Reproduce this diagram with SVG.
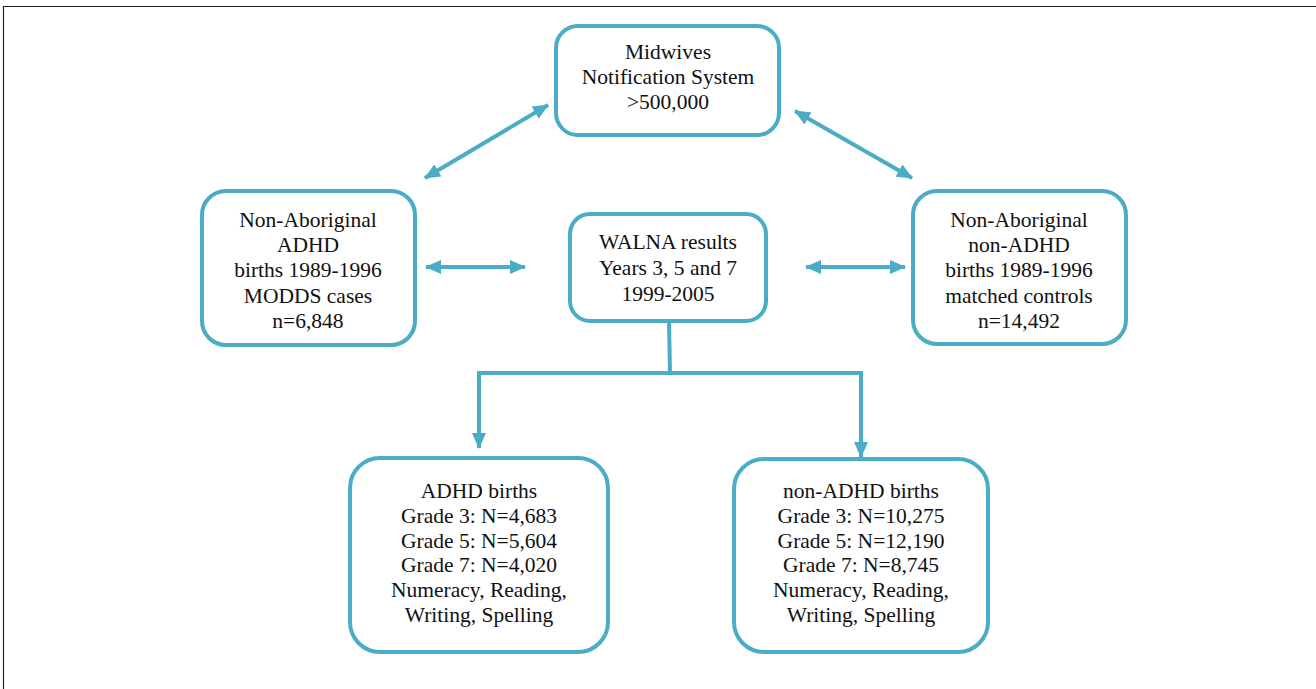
<svg xmlns="http://www.w3.org/2000/svg" width="1316" height="689" viewBox="0 0 1316 689">
<style>
.box{fill:#fff;stroke:#4BACC6;stroke-width:4}
.t{font-family:"Liberation Serif","DejaVu Serif",serif;font-size:21.5px;fill:#111;text-anchor:middle}
.c{fill:none;stroke:#4BACC6;stroke-width:4}
</style>
<defs>
<marker id="ah" markerUnits="userSpaceOnUse" markerWidth="16" markerHeight="14" refX="15" refY="7" orient="auto-start-reverse" viewBox="0 0 16 14">
<path d="M0,0 L16,7 L0,14 Z" fill="#4BACC6"/>
</marker>
</defs>
<rect x="0" y="0" width="1316" height="689" fill="#fff"/>
<path d="M3.5,689 V6.5 H1316" fill="none" stroke="#222" stroke-width="1.2"/>
<g id="connectors">
<line class="c" x1="548" y1="105" x2="425" y2="178" marker-start="url(#ah)" marker-end="url(#ah)"/>
<line class="c" x1="795" y1="111" x2="912" y2="178" marker-start="url(#ah)" marker-end="url(#ah)"/>
<line class="c" x1="426" y1="267" x2="525" y2="267" marker-start="url(#ah)" marker-end="url(#ah)"/>
<line class="c" x1="806" y1="267" x2="905" y2="267" marker-start="url(#ah)" marker-end="url(#ah)"/>
<path class="c" d="M669,321 L670,373"/>
<path class="c" d="M479,447 V373 H861 V456" stroke-linejoin="miter"/>
<line class="c" x1="479" y1="430" x2="479" y2="448" marker-end="url(#ah)"/>
<line class="c" x1="861" y1="440" x2="861" y2="457" marker-end="url(#ah)"/>
</g>
<g id="n-midwives">
<rect class="box" x="556" y="26" width="223" height="109" rx="22"/>
<text class="t" x="668" y="59">Midwives</text>
<text class="t" x="668" y="84">Notification System</text>
<text class="t" x="668" y="109">&gt;500,000</text>
</g>
<g id="n-adhd">
<rect class="box" x="202" y="191" width="213" height="154" rx="24"/>
<text class="t" x="308" y="227">Non-Aboriginal</text>
<text class="t" x="308" y="252">ADHD</text>
<text class="t" x="308" y="277">births 1989-1996</text>
<text class="t" x="308" y="303">MODDS cases</text>
<text class="t" x="308" y="328">n=6,848</text>
</g>
<g id="n-walna">
<rect class="box" x="570" y="214" width="196" height="107" rx="20"/>
<text class="t" x="668" y="249">WALNA results</text>
<text class="t" x="668" y="275">Years 3, 5 and 7</text>
<text class="t" x="668" y="301">1999-2005</text>
</g>
<g id="n-controls">
<rect class="box" x="913" y="191" width="213" height="153" rx="24"/>
<text class="t" x="1019" y="227">Non-Aboriginal</text>
<text class="t" x="1019" y="252">non-ADHD</text>
<text class="t" x="1019" y="277">births 1989-1996</text>
<text class="t" x="1019" y="303">matched controls</text>
<text class="t" x="1019" y="328">n=14,492</text>
</g>
<g id="n-adhd-births">
<rect class="box" x="350" y="458" width="258" height="194" rx="30"/>
<text class="t" x="479" y="498">ADHD births</text>
<text class="t" x="479" y="523">Grade 3: N=4,683</text>
<text class="t" x="479" y="548">Grade 5: N=5,604</text>
<text class="t" x="479" y="572">Grade 7: N=4,020</text>
<text class="t" x="479" y="597">Numeracy, Reading,</text>
<text class="t" x="479" y="622">Writing, Spelling</text>
</g>
<g id="n-nonadhd-births">
<rect class="box" x="734" y="459" width="254" height="193" rx="30"/>
<text class="t" x="861" y="498">non-ADHD births</text>
<text class="t" x="861" y="523">Grade 3: N=10,275</text>
<text class="t" x="861" y="548">Grade 5: N=12,190</text>
<text class="t" x="861" y="572">Grade 7: N=8,745</text>
<text class="t" x="861" y="597">Numeracy, Reading,</text>
<text class="t" x="861" y="622">Writing, Spelling</text>
</g>
</svg>
